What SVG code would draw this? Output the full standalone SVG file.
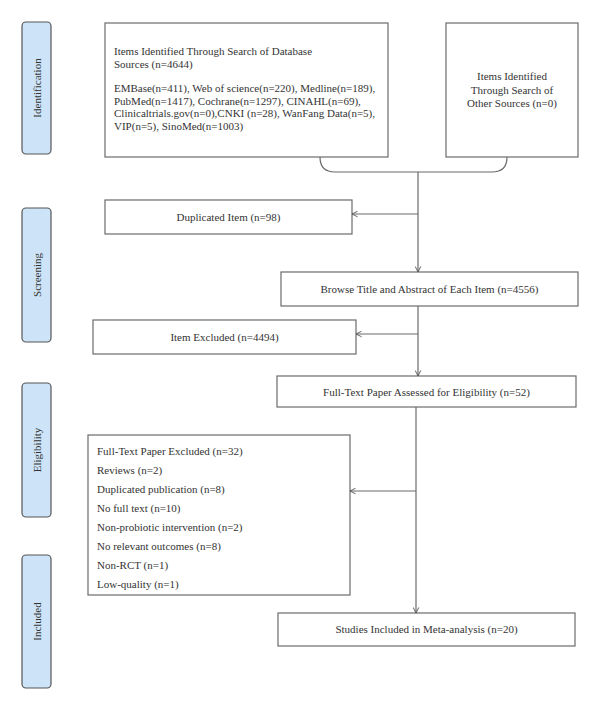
<svg xmlns="http://www.w3.org/2000/svg" width="600" height="710" viewBox="0 0 600 710">
<style>
.box{fill:#fff;stroke:#6b6b6b;stroke-width:1.2}
.lab{fill:#cde4f8;stroke:#555;stroke-width:1.2}
text{font-family:"Liberation Serif","Times New Roman",serif;font-size:11px;fill:#333}
.c{text-anchor:middle}
.conn{fill:none;stroke:#6b6b6b;stroke-width:1.2}
</style>
<defs>
<marker id="ah" viewBox="0 0 10 10" refX="9" refY="5" markerWidth="7" markerHeight="7" markerUnits="userSpaceOnUse" orient="auto">
<path d="M1,1 L9,5 L1,9" fill="none" stroke="#555" stroke-width="1.3"/>
</marker>
</defs>
<rect width="600" height="710" fill="#fff"/>
<g id="label-identification"><rect class="lab" x="22" y="22" width="29" height="132" rx="4"/><text class="c" transform="translate(40.5,88) rotate(-90)">Identification</text></g>
<g id="label-screening"><rect class="lab" x="22" y="208" width="29" height="134" rx="4"/><text class="c" transform="translate(40.5,275) rotate(-90)">Screening</text></g>
<g id="label-eligibility"><rect class="lab" x="22" y="383" width="29" height="134" rx="4"/><text class="c" transform="translate(40.5,450) rotate(-90)">Eligibility</text></g>
<g id="label-included"><rect class="lab" x="22" y="555" width="29" height="133" rx="4"/><text class="c" transform="translate(40.5,621.5) rotate(-90)">Included</text></g>
<g id="node-database"><rect class="box" x="105" y="23" width="283" height="134"/>
<text x="114" y="55">Items Identified Through Search of Database</text>
<text x="114" y="68">Sources (n=4644)</text>
<text x="114" y="92">EMBase(n=411), Web of science(n=220), Medline(n=189),</text>
<text x="114" y="104.5">PubMed(n=1417), Cochrane(n=1297), CINAHL(n=69),</text>
<text x="114" y="117">Clinicaltrials.gov(n=0),CNKI (n=28), WanFang Data(n=5),</text>
<text x="114" y="129.5">VIP(n=5), SinoMed(n=1003)</text></g>
<g id="node-other"><rect class="box" x="446" y="23" width="132" height="134"/>
<text class="c" x="512" y="80">Items Identified</text>
<text class="c" x="512" y="93.5">Through Search of</text>
<text class="c" x="512" y="107">Other Sources (n=0)</text></g>
<g id="node-duplicated"><rect class="box" x="105" y="200" width="247" height="34"/><text class="c" x="228.5" y="221">Duplicated Item (n=98)</text></g>
<g id="node-browse"><rect class="box" x="281" y="272" width="297" height="34"/><text class="c" x="429.5" y="293">Browse Title and Abstract of Each Item (n=4556)</text></g>
<g id="node-excluded"><rect class="box" x="93" y="320" width="263" height="34"/><text class="c" x="224.5" y="341">Item Excluded (n=4494)</text></g>
<g id="node-fulltext"><rect class="box" x="277" y="376" width="299" height="31"/><text class="c" x="426.5" y="395.5">Full-Text Paper Assessed for Eligibility (n=52)</text></g>
<g id="node-ftexcluded"><rect class="box" x="88" y="435" width="262" height="160"/>
<text x="97" y="455">Full-Text Paper Excluded (n=32)</text>
<text x="97" y="474">Reviews (n=2)</text>
<text x="97" y="493">Duplicated publication (n=8)</text>
<text x="97" y="512">No full text (n=10)</text>
<text x="97" y="531">Non-probiotic intervention (n=2)</text>
<text x="97" y="550">No relevant outcomes (n=8)</text>
<text x="97" y="569">Non-RCT (n=1)</text>
<text x="97" y="588">Low-quality (n=1)</text></g>
<g id="node-studies"><rect class="box" x="278" y="613" width="297" height="33"/><text class="c" x="426.5" y="633">Studies Included in Meta-analysis (n=20)</text></g>
<g id="connectors">
<path class="conn" d="M320,157 Q320,172 335,172 L492,172 Q507,172 507,157"/>
<path class="conn" d="M418,172 L418,272" marker-end="url(#ah)"/>
<path class="conn" d="M418,214 L352,214" marker-end="url(#ah)"/>
<path class="conn" d="M418,306 L418,376" marker-end="url(#ah)"/>
<path class="conn" d="M418,334 L356,334" marker-end="url(#ah)"/>
<path class="conn" d="M416,407 L416,613" marker-end="url(#ah)"/>
<path class="conn" d="M416,491 L350,491" marker-end="url(#ah)"/>
</g>
</svg>
